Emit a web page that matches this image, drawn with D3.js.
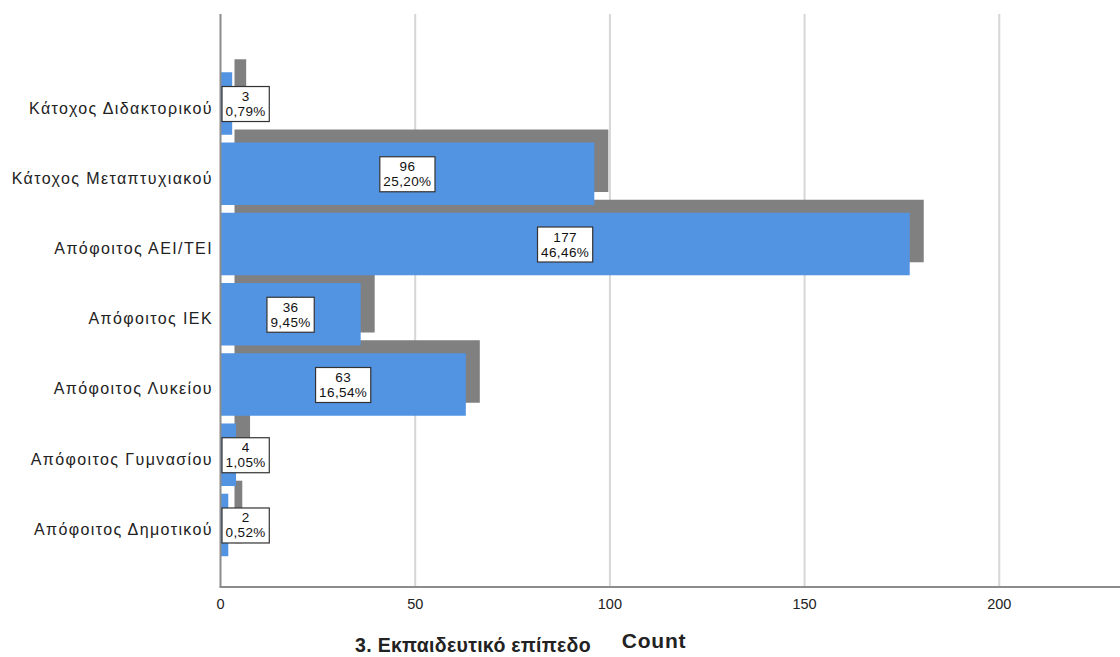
<!DOCTYPE html>
<html><head><meta charset="utf-8">
<script src="https://cdn.jsdelivr.net/npm/d3@7"></script>
<style>body{margin:0;background:#fff}svg{display:block;font-family:"Liberation Sans",Arial,sans-serif}</style>
</head><body>
<svg id="c" width="1120" height="657"></svg>
<script>
const categories = ["Κάτοχος Διδακτορικού","Κάτοχος Μεταπτυχιακού","Απόφοιτος ΑΕΙ/ΤΕΙ","Απόφοιτος ΙΕΚ","Απόφοιτος Λυκείου","Απόφοιτος Γυμνασίου","Απόφοιτος Δημοτικού"];
const counts = [3,96,177,36,63,4,2];
const percents = ["0,79%","25,20%","46,46%","9,45%","16,54%","1,05%","0,52%"];
const xTicks = [0,50,100,150,200];

(function(){
const svg = d3.select("#c");
const x = d3.scaleLinear().domain([0,231]).range([220.5,1120]);
const y = d3.scaleBand().domain(categories).range([68.4,560.1]).paddingInner(0.11).paddingOuter(0.055);
const plotTop = 14, plotBottom = 587;

svg.append("g").selectAll("line").data(xTicks.filter(d=>d>0)).join("line")
  .attr("x1",d=>x(d)).attr("x2",d=>x(d)).attr("y1",plotTop).attr("y2",plotBottom)
  .attr("stroke","#d6d6d6").attr("stroke-width",2);

const data = categories.map((c,i)=>({c,v:counts[i],p:percents[i]}));
const dx = 14, dy = -13;
svg.append("g").selectAll("rect").data(data).join("rect")
  .attr("x",x(0)+dx).attr("y",d=>y(d.c)+dy)
  .attr("width",d=>x(d.v)-x(0)).attr("height",y.bandwidth())
  .attr("fill","#808080");
svg.append("g").selectAll("rect").data(data).join("rect")
  .attr("x",x(0)).attr("y",d=>y(d.c))
  .attr("width",d=>x(d.v)-x(0)).attr("height",y.bandwidth())
  .attr("fill","#5294E2");

svg.append("line").attr("x1",220.5).attr("x2",220.5).attr("y1",plotTop).attr("y2",plotBottom).attr("stroke","#8c8c8c").attr("stroke-width",2);
svg.append("line").attr("x1",219.5).attr("x2",1120).attr("y1",plotBottom).attr("y2",plotBottom).attr("stroke","#8c8c8c").attr("stroke-width",2);

svg.append("g").selectAll("text").data(xTicks).join("text")
  .attr("x",d=>x(d)).attr("y",609).attr("text-anchor","middle")
  .attr("font-size",14.5).attr("fill","#222").text(d=>d);

svg.append("g").selectAll("text").data(categories).join("text")
  .attr("x",213).attr("y",d=>y(d)+y.bandwidth()/2+10).attr("text-anchor","end")
  .attr("font-size",16).attr("letter-spacing",1.4).attr("fill","#222").text(d=>d);

const lg = svg.append("g");
data.forEach(d=>{
  const g = lg.append("g");
  const cy = y(d.c)+y.bandwidth()/2;
  const t1 = g.append("text").attr("text-anchor","middle").attr("font-size",13.5).attr("letter-spacing",0.4).attr("fill","#111").text(d.v);
  const t2 = g.append("text").attr("text-anchor","middle").attr("font-size",13.5).attr("letter-spacing",0.4).attr("fill","#111").text(d.p);
  const w = Math.max(t1.node().getComputedTextLength(), t2.node().getComputedTextLength()) + 7;
  const h = 35;
  let cx = (x(0)+x(d.v))/2;
  if (x(d.v)-x(0) < w + 4) cx = 222 + w/2;
  g.insert("rect","text").attr("x",cx-w/2).attr("y",cy-h/2+0.5).attr("width",w).attr("height",h)
    .attr("fill","#fff").attr("stroke","#333").attr("stroke-width",1.2);
  t1.attr("x",cx).attr("y",cy-2.5);
  t2.attr("x",cx).attr("y",cy+12.5);
});

svg.append("text").attr("x",654).attr("y",648).attr("text-anchor","middle").attr("font-size",21).attr("letter-spacing",0.8).attr("font-weight","bold").attr("fill","#222").text("Count");
svg.append("text").attr("x",473).attr("y",652).attr("text-anchor","middle").attr("font-size",19.5).attr("letter-spacing",0.3).attr("font-weight","bold").attr("fill","#222").text("3. Εκπαιδευτικό επίπεδο");
})();
</script>
</body></html>
